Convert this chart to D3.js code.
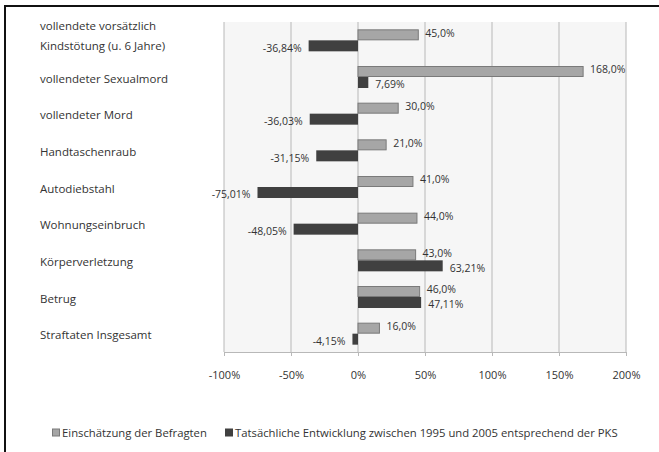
<!DOCTYPE html>
<html>
<head>
<meta charset="utf-8">
<script src="https://cdn.jsdelivr.net/npm/d3@7"></script>
<style>
  body { margin: 0; background: #fff; }
  text { font-family: 'Open Sans', sans-serif; fill: #333; }
</style>
</head>
<body>
<div id="chart"></div>
<script>
let categories = [
    ['vollendete vorsätzlich', 'Kindstötung (u. 6 Jahre)'],
    ['vollendeter Sexualmord'],
    ['vollendeter Mord'],
    ['Handtaschenraub'],
    ['Autodiebstahl'],
    ['Wohnungseinbruch'],
    ['Körperverletzung'],
    ['Betrug'],
    ['Straftaten Insgesamt']
]
let einschaetzung = [45.0, 168.0, 30.0, 21.0, 41.0, 44.0, 43.0, 46.0, 16.0]
let entwicklung = [-36.84, 7.69, -36.03, -31.15, -75.01, -48.05, 63.21, 47.11, -4.15]
let seriesNames = ['Einschätzung der Befragten', 'Tatsächliche Entwicklung zwischen 1995 und 2005 entsprechend der PKS']
let tickValues = [-100, -50, 0, 50, 100, 150, 200]

let width = 659, height = 452
let svg = d3.select('#chart')
    .append('svg')
    .attr('width', width)
    .attr('height', height)

// frame of the original image
svg.append('line').attr('x1', 5).attr('x2', 5).attr('y1', 5).attr('y2', height)
    .attr('stroke', '#111').attr('stroke-width', 2)
svg.append('line').attr('x1', 4).attr('x2', width).attr('y1', 6).attr('y2', 6)
    .attr('stroke', '#111').attr('stroke-width', 2)

let xScale = d3.scaleLinear()
    .domain([-100, 200])
    .range([224, 626])

let yScale = d3.scaleBand()
    .domain(d3.range(categories.length))
    .range([22, 352])
    .paddingInner(0.4)
    .paddingOuter(0.2)

let sub = d3.scaleBand()
    .domain([0, 1])
    .range([0, yScale.bandwidth()])

let fmt = (d, digits) => d.toFixed(digits).replace('.', ',') + '%'

// plot background
svg.append('rect')
    .attr('x', xScale(-100))
    .attr('y', 22)
    .attr('width', xScale(200) - xScale(-100))
    .attr('height', 330)
    .attr('fill', '#f6f6f6')

// grid lines
svg.selectAll('.grid')
    .data(tickValues)
    .enter()
    .append('line')
    .attr('class', 'grid')
    .attr('x1', d => xScale(d))
    .attr('x2', d => xScale(d))
    .attr('y1', 22)
    .attr('y2', 352)
    .attr('stroke', '#b8b8b8')
    .attr('stroke-width', 1)

let xAxis = d3.axisBottom(xScale)
    .tickValues(tickValues)
    .tickSize(4)
    .tickPadding(15)
    .tickFormat(d => d + '%')

let gx = svg.append('g')
    .attr('transform', 'translate(0,352)')
    .call(xAxis)
gx.select('.domain').attr('stroke', '#b8b8b8')
gx.selectAll('.tick line').attr('stroke', '#b8b8b8')
gx.selectAll('.tick text')
    .style('font-family', "'Open Sans', sans-serif")
    .style('font-size', '11px')
    .attr('fill', '#333')

// category labels
let catLabels = svg.selectAll('.cat')
    .data(categories)
    .enter()
    .append('text')
    .attr('class', 'cat')
    .attr('y', (d, i) => yScale(i) + yScale.bandwidth() / 2 + 1.5 - (d.length - 1) * 16)
    .style('font-size', '11.5px')
catLabels.selectAll('tspan')
    .data(d => d)
    .enter()
    .append('tspan')
    .attr('x', 40)
    .attr('dy', (d, i) => i === 0 ? '0.35em' : 20)
    .text(d => d)

// light bars
svg.selectAll('.barA')
    .data(einschaetzung)
    .enter()
    .append('rect')
    .attr('class', 'barA')
    .attr('x', d => xScale(Math.min(0, d)))
    .attr('y', (d, i) => yScale(i) + sub(0) + 0.5)
    .attr('width', d => Math.abs(xScale(d) - xScale(0)))
    .attr('height', sub.bandwidth() - 1)
    .attr('fill', '#a6a6a6')
    .attr('stroke', '#7a7a7a')
    .attr('stroke-width', 1)

// dark bars
svg.selectAll('.barB')
    .data(entwicklung)
    .enter()
    .append('rect')
    .attr('class', 'barB')
    .attr('x', d => xScale(Math.min(0, d)))
    .attr('y', (d, i) => yScale(i) + sub(1))
    .attr('width', d => Math.abs(xScale(d) - xScale(0)))
    .attr('height', sub.bandwidth())
    .attr('fill', '#404040')

// value labels
svg.selectAll('.labA')
    .data(einschaetzung)
    .enter()
    .append('text')
    .attr('class', 'labA')
    .attr('x', d => xScale(d) + (d >= 0 ? 7 : -7))
    .attr('y', (d, i) => yScale(i) + sub(0) + sub.bandwidth() / 2 - 2)
    .attr('dy', '0.35em')
    .attr('text-anchor', d => d >= 0 ? 'start' : 'end')
    .style('font-size', '10.5px')
    .text(d => fmt(d, 1))

svg.selectAll('.labB')
    .data(entwicklung)
    .enter()
    .append('text')
    .attr('class', 'labB')
    .attr('x', d => xScale(d) + (d >= 0 ? 7 : -7))
    .attr('y', (d, i) => yScale(i) + sub(1) + sub.bandwidth() / 2 + 2)
    .attr('dy', '0.35em')
    .attr('text-anchor', d => d >= 0 ? 'start' : 'end')
    .style('font-size', '10.5px')
    .text(d => fmt(d, 2))

// legend
let legendX = [52, 225]
let legendColors = [['#a6a6a6', '#7a7a7a'], ['#404040', '#404040']]
let legend = svg.selectAll('.legend')
    .data(seriesNames)
    .enter()
    .append('g')
    .attr('class', 'legend')
    .attr('transform', (d, i) => `translate(${legendX[i]},433)`)
legend.append('rect')
    .attr('x', 0.5)
    .attr('y', -4)
    .attr('width', 7)
    .attr('height', 7)
    .attr('fill', (d, i) => legendColors[i][0])
    .attr('stroke', (d, i) => legendColors[i][1])
legend.append('text')
    .attr('x', 10)
    .attr('dy', '0.35em')
    .style('font-size', '11.3px')
    .text(d => d)
</script>
</body>
</html>
